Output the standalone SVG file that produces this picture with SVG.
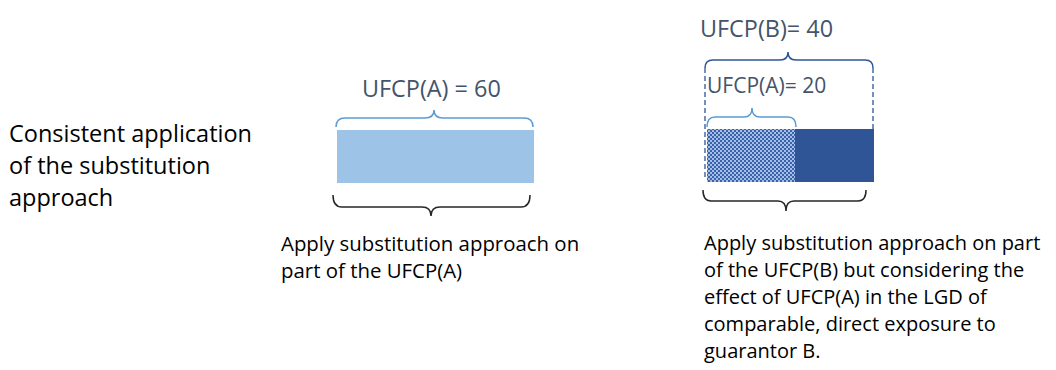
<svg xmlns="http://www.w3.org/2000/svg" width="1056" height="370" viewBox="0 0 1056 370">
<style>
text{font-family:"Open Sans","Liberation Sans",sans-serif;}
.body{font-size:20px;fill:#000;}
.bodyA{font-size:20.4px;fill:#000;}
.side{font-size:23.5px;fill:#000;}
.lbl{font-size:23.4px;fill:#44546A;}
.lbls{font-size:21px;fill:#44546A;}
.brace{fill:none;stroke-width:1.5;}
.lb{stroke:#5B9BD5;}
.db{stroke:#2F5597;}
.bk{stroke:#262626;}
.dash{fill:none;stroke:#2F5597;stroke-width:1.3;stroke-dasharray:5 3;}
</style>
<defs>
<pattern id="chk" width="4" height="4" patternUnits="userSpaceOnUse">
<rect width="4" height="4" fill="#A4BEE6"/>
<rect width="2" height="2" fill="#3A62AA"/>
<rect x="2" y="2" width="2" height="2" fill="#3A62AA"/>
</pattern>
</defs>
<rect width="1056" height="370" fill="#fff"/>
<g id="title">
<text class="side" x="9" y="142">Consistent application</text>
<text class="side" x="9" y="174">of the substitution</text>
<text class="side" x="9" y="206">approach</text>
</g>
<g id="nodeA">
<text class="lbl" x="362" y="97">UFCP(A) = 60</text>
<rect x="337" y="130" width="197" height="53" fill="#9DC3E6"/>
<text class="bodyA" x="281" y="251">Apply substitution approach on</text>
<text class="bodyA" x="281" y="278">part of the UFCP(A)</text>
</g>
<g id="nodeB">
<text class="lbl" x="700" y="37">UFCP(B)= 40</text>
<text class="lbls" x="707" y="93">UFCP(A)= 20</text>
<rect x="707" y="129" width="88" height="53" fill="url(#chk)"/>
<rect x="795" y="129" width="79" height="53" fill="#2F5597"/>
<text class="body" x="704" y="250">Apply substitution approach on part</text>
<text class="body" x="704" y="277">of the UFCP(B) but considering the</text>
<text class="body" x="704" y="304">effect of UFCP(A) in the LGD of</text>
<text class="body" x="704" y="331">comparable, direct exposure to</text>
<text class="body" x="704" y="358">guarantor B.</text>
</g>
<g id="connectors">
<path class="brace lb" d="M336,127 Q336,118 345,118 L425,118 Q434,118 434,110 Q434,118 443,118 L524,118 Q533,118 533,127"/>
<path class="brace bk" d="M333,195 Q333,207 342,207 L422,207 Q431,207 431,216 Q431,207 440,207 L521,207 Q530,207 530,195"/>
<path class="brace db" d="M705,68 Q705,60 713,60 L780,60 Q788,60 788,52 Q788,60 796,60 L865,60 Q873,60 873,68"/>
<path class="dash" d="M705,68 V178 M873,68 V129"/>
<path class="brace lb" d="M707,127 Q707,117 715,117 L744,117 Q752,117 752,108 Q752,117 760,117 L788,117 Q796,117 796,127"/>
<path class="brace bk" d="M703,190 Q703,201 711,201 L778,201 Q786,201 786,211 Q786,201 794,201 L858,201 Q866,201 866,190"/>
</g>
</svg>
